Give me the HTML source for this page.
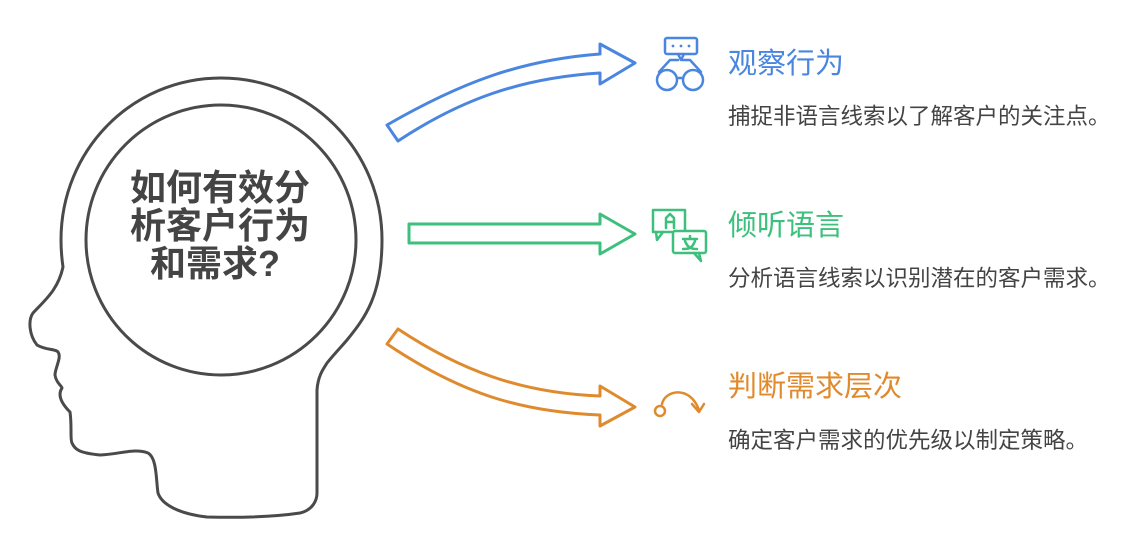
<!DOCTYPE html>
<html><head><meta charset="utf-8"><style>
html,body{margin:0;padding:0;background:#fff;width:1127px;height:537px;overflow:hidden;position:relative;font-family:"Liberation Sans","Noto Sans CJK SC",sans-serif}
.t{position:absolute;white-space:nowrap;line-height:1}
.h{font-size:29px;left:728px}
.d{font-size:22.5px;left:728px;color:#444}
.c{position:absolute;left:100px;width:240px;text-align:center;font-size:36px;font-weight:bold;color:#444;line-height:38px;top:169px}
</style></head><body>
<svg width="1127" height="537" style="position:absolute;left:0;top:0" fill="none" stroke-linejoin="round" stroke-linecap="round">
<path d="M63,267 C58,290 45,300 33,313 C28,320 29,335 37,345 C45,350 56,349 58,352 C62,357 55,368 55,375 C56,383 62,386 62,388 C58,394 60,402 70,412 C72,425 70,440 72,443 C75,450 80,453 100,455 C120,454 135,448 148,453 C157,458 156,480 158,493 C162,505 180,514 207,517 C250,518 280,516 300,513 C313,510 317,500 317,493 L317,390 C318,375 324,368 327,363 C335,353 342,346 347,340 C365,318 382,295 382,240 C382,150 310,78 221,78 C132,78 61,150 61,240 C61,252 62,260 63,267 Z" stroke="#4a4a4a" stroke-width="3"/>
<circle cx="221" cy="240" r="135" stroke="#4a4a4a" stroke-width="3"/>
<path d="M387,125 C460,83 520,60 600,54 L600,44 L635,63 L600,84 L600,73 C520,78 460,100 398,141 Z" stroke="#4a86e0" stroke-width="3"/>
<path d="M409,224 L600,224 L600,214 L635,234 L600,254 L600,243 L409,243 Z" stroke="#3cc07c" stroke-width="3"/>
<path d="M398,329 C460,370 520,393 600,396 L600,386 L635,407 L600,426 L600,415 C520,412 460,393 387,344 Z" stroke="#e08a2e" stroke-width="3"/>
<g stroke="#4a86e0" stroke-width="2.5">
<rect x="665" y="38" width="32" height="16" rx="2"/>
<path d="M678,54 L681,60 L684,54"/>
<circle cx="667" cy="80" r="10"/><circle cx="693" cy="80" r="10"/>
<path d="M659,72 L670,60 L678,60 M701,72 L690,60 L682,60 M677,78 L683,78"/>
</g>
<g fill="#4a86e0"><circle cx="673" cy="46" r="1.4"/><circle cx="681" cy="46" r="1.4"/><circle cx="689" cy="46" r="1.4"/></g>
<g stroke="#3cc07c" stroke-width="2.5">
<path d="M673,232 L653,232 L653,210 L685,210 L685,230"/>
<path d="M656,232 L657,240 L663,232"/>
<rect x="673" y="231" width="33" height="22" rx="2"/>
<path d="M699,253 L701,261 L694,253"/>
<path d="M666,228 L666,218 L670,214 L674,218 L674,228 M666,222 L674,222"/>
<path d="M683,239 L697,239 M690,236 L690,239 M685,241 C688,249 693,249 697,249 M695,241 C692,249 688,249 683,249"/>
</g>
<g stroke="#e08a2e" stroke-width="2.5">
<circle cx="660" cy="411" r="5"/>
<path d="M662,404 C665,390 690,385 699,410 M692,404 L699,412 L704,404"/>
</g>
</svg>
<div class="c">如何有效分<br>析客户行为<br>和需求?&nbsp;</div>
<div class="t h" style="top:50px;color:#4a86e0">观察行为</div>
<div class="t d" style="top:106px">捕捉非语言线索以了解客户的关注点。</div>
<div class="t h" style="top:212px;color:#3cc07c">倾听语言</div>
<div class="t d" style="top:268px">分析语言线索以识别潜在的客户需求。</div>
<div class="t h" style="top:373px;color:#e08a2e">判断需求层次</div>
<div class="t d" style="top:430px">确定客户需求的优先级以制定策略。</div>
</body></html>
